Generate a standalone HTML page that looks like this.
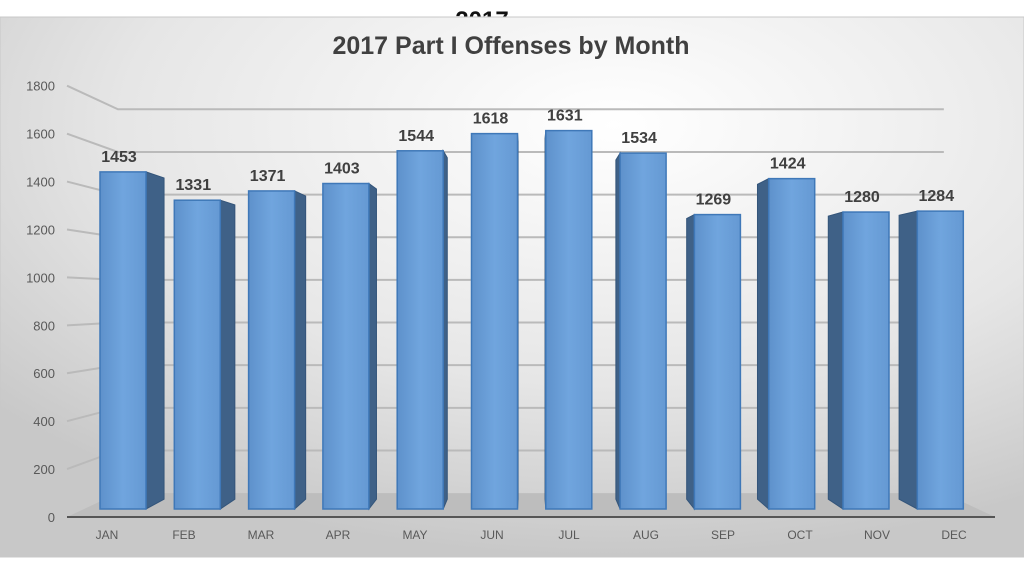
<!DOCTYPE html>
<html><head><meta charset="utf-8"><style>
html,body{margin:0;padding:0;background:#fff;width:1024px;height:576px;overflow:hidden}
svg{display:block;font-family:"Liberation Sans",Arial,sans-serif}
</style></head><body>
<svg id="chart" width="1024" height="576" viewBox="0 0 1024 576" xmlns="http://www.w3.org/2000/svg">
<defs>
<radialGradient id="bg" cx="0.6" cy="0.2" r="0.8">
<stop offset="0" stop-color="#ffffff"/><stop offset="0.6" stop-color="#e6e6e6"/><stop offset="1" stop-color="#c8c8c8"/>
</radialGradient>
<linearGradient id="front" x1="0" y1="0" x2="1" y2="0">
<stop offset="0" stop-color="#5e91cb"/><stop offset="0.5" stop-color="#70a5de"/><stop offset="1" stop-color="#6599d3"/>
</linearGradient>
</defs>
<text x="482" y="28" font-size="24" font-weight="bold" fill="#111" text-anchor="middle">2017</text>
<rect x="0" y="17" width="1024" height="540" fill="url(#bg)" stroke="#c8c8c8"/>
<text x="511" y="54" font-size="25" font-weight="bold" fill="#404040" text-anchor="middle">2017 Part I Offenses by Month</text>
<g id="grid"></g>
<g id="bars"></g>
<g id="labels"></g>
</svg>
<script>
const months=["JAN","FEB","MAR","APR","MAY","JUN","JUL","AUG","SEP","OCT","NOV","DEC"];
const values=[1453,1331,1371,1403,1544,1618,1631,1534,1269,1424,1280,1284];
const ticks=[0,200,400,600,800,1000,1200,1400,1600,1800];
const NS="http://www.w3.org/2000/svg";
const VX=530,VY=300,BACK=0.89,DEPTH=0.953;
function yAxis(v){return 517-v*0.2396;}
function yBar(v){return 509-v*0.232;}
function xBar(i){return 100+i*74.3;}
function pb(x,y,f){return [VX+(x-VX)*f,VY+(y-VY)*f];}
function mk(tag,attrs,parent){const e=document.createElementNS(NS,tag);for(const k in attrs)e.setAttribute(k,attrs[k]);parent.appendChild(e);return e;}
const grid=document.getElementById('grid'),bars=document.getElementById('bars'),labels=document.getElementById('labels');
const f1=pb(67,517,BACK),f2=pb(995,517,BACK);
const floor=mk('polygon',{points:`67,517 995,517 ${f2[0]},${f2[1]} ${f1[0]},${f1[1]}`,fill:'#bdbdbd'},grid);


ticks.forEach(t=>{
  const fy=yAxis(t);const b=pb(67,fy,BACK);const br=pb(995,fy,BACK);
  if(t>0){
    const l=mk('polyline',{points:`67,${fy} ${b[0]},${b[1]} ${br[0]},${br[1]}`,fill:'none',stroke:'#bababa','stroke-width':2},grid);
    
    
  }
  const tx=mk('text',{x:55,y:fy+5,'font-size':13,fill:'#595959','text-anchor':'end'},grid);
  tx.textContent=t;
  
  
});
const axis=mk('line',{x1:67,y1:517,x2:995,y2:517,stroke:'#555','stroke-width':2},grid);


values.forEach((v,i)=>{
  const x1=xBar(i),x2=x1+46,yt=yBar(v),yb=509;
  const g=mk('g',{},bars);
  
  
  const ex=(x1+x2)/2<VX?x2:x1;
  const a=pb(ex,yt,DEPTH),b=pb(ex,yb,DEPTH);
  mk('polygon',{points:`${ex},${yt} ${a[0]},${a[1]} ${b[0]},${b[1]} ${ex},${yb}`,fill:'#3f6187',stroke:'#34557a','stroke-width':1},g);
  mk('rect',{x:x1,y:yt,width:46,height:yb-yt,fill:'url(#front)',stroke:'#3f78b8','stroke-width':1.5},g);
  const lb=mk('text',{x:(x1+x2)/2-4,y:yt-10,'font-size':16,'font-weight':'bold',fill:'#404040','text-anchor':'middle'},labels);
  lb.textContent=v;
  
  
  const ml=mk('text',{x:107+i*77,y:539,'font-size':12,fill:'#595959','text-anchor':'middle'},labels);
  ml.textContent=months[i];
  
  
});
</script>
</body></html>
